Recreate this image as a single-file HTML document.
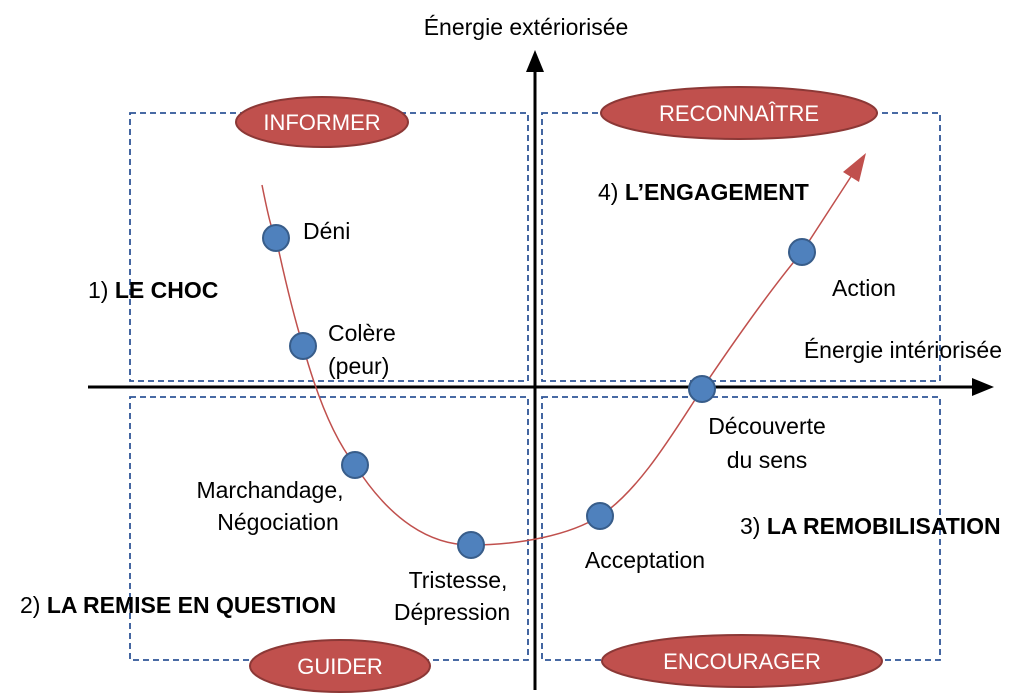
<!DOCTYPE html>
<html><head><meta charset="utf-8"><style>
html,body{margin:0;padding:0;background:#fff;}
svg{display:block;}
text{font-family:"Liberation Sans",sans-serif;font-size:23px;fill:#000;}
.w{fill:#fff;font-size:22px;}
</style></head><body>
<svg width="1024" height="700" viewBox="0 0 1024 700">
<g fill="none" stroke="#2f5597" stroke-width="1.8" stroke-dasharray="6,4">
<rect x="130" y="113" width="398" height="268"/>
<rect x="542" y="113" width="398" height="268"/>
<rect x="130" y="397" width="398" height="263"/>
<rect x="542" y="397" width="398" height="263"/>
</g>
<line x1="535" y1="690" x2="535" y2="70" stroke="#000" stroke-width="3"/>
<path d="M526,72 L535,50 L544,72 Z" fill="#000"/>
<line x1="88" y1="387" x2="975" y2="387" stroke="#000" stroke-width="3"/>
<path d="M972,378 L994,387 L972,396 Z" fill="#000"/>
<g fill="#c0504d" stroke="#8c3836" stroke-width="2">
<ellipse cx="322" cy="122" rx="86" ry="25"/>
<ellipse cx="739" cy="113" rx="138" ry="26"/>
<ellipse cx="340" cy="666" rx="90" ry="26"/>
<ellipse cx="742" cy="661" rx="140" ry="26"/>
</g>
<text class="w" x="322" y="130" text-anchor="middle">INFORMER</text>
<text class="w" x="739" y="121" text-anchor="middle">RECONNAÎTRE</text>
<text class="w" x="340" y="674" text-anchor="middle">GUIDER</text>
<text class="w" x="742" y="669" text-anchor="middle">ENCOURAGER</text>
<path d="M262,185 C268,215 272,232 276,238 C285,280 295,320 303,346 C318,400 335,440 355,465 C390,520 430,545 471,545 C520,545 570,535 600,516 C640,490 675,430 702,389 C735,340 770,290 802,252 L852,175" fill="none" stroke="#c0504d" stroke-width="1.5"/>
<path d="M843,172 L866,153 L859,182 Z" fill="#c0504d"/>
<g fill="#4f81bd" stroke="#385d8a" stroke-width="2">
<circle cx="276" cy="238" r="13"/>
<circle cx="303" cy="346" r="13"/>
<circle cx="355" cy="465" r="13"/>
<circle cx="471" cy="545" r="13"/>
<circle cx="600" cy="516" r="13"/>
<circle cx="702" cy="389" r="13"/>
<circle cx="802" cy="252" r="13"/>
</g>
<text x="526" y="35" text-anchor="middle">Énergie extériorisée</text>
<text x="1002" y="358" text-anchor="end">Énergie intériorisée</text>
<text x="303" y="239">Déni</text>
<text x="328" y="341">Colère</text>
<text x="328" y="374">(peur)</text>
<text x="270" y="498" text-anchor="middle">Marchandage,</text>
<text x="278" y="530" text-anchor="middle">Négociation</text>
<text x="458" y="588" text-anchor="middle">Tristesse,</text>
<text x="452" y="620" text-anchor="middle">Dépression</text>
<text x="645" y="568" text-anchor="middle">Acceptation</text>
<text x="767" y="434" text-anchor="middle">Découverte</text>
<text x="767" y="468" text-anchor="middle">du sens</text>
<text x="864" y="296" text-anchor="middle">Action</text>
<text x="88" y="298">1) <tspan font-weight="bold">LE CHOC</tspan></text>
<text x="20" y="613">2) <tspan font-weight="bold">LA REMISE EN QUESTION</tspan></text>
<text x="740" y="534">3) <tspan font-weight="bold">LA REMOBILISATION</tspan></text>
<text x="598" y="200">4) <tspan font-weight="bold">L’ENGAGEMENT</tspan></text>
</svg>
</body></html>
